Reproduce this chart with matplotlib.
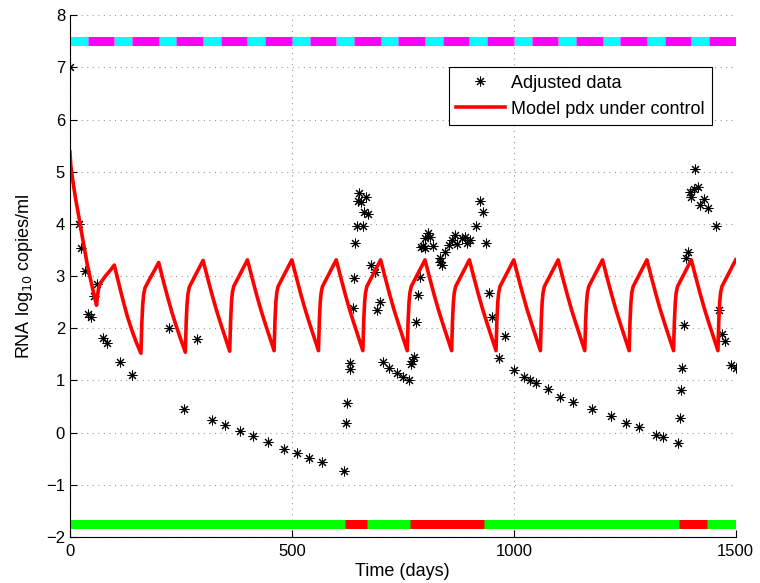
import matplotlib
matplotlib.use("Agg")
import matplotlib.pyplot as plt

plt.rcParams["font.family"] = ["Liberation Sans", "DejaVu Sans"]

# Adjusted data (days, log10 copies/ml)
data_days = [0, 20, 25, 33, 41, 48, 55, 62, 75, 83, 112, 140, 224, 257, 287,
             321, 349, 384, 412, 447, 483, 511, 538, 567, 617, 622, 624, 630,
             630, 637, 639, 643, 646, 661, 649, 652, 656, 668, 663, 672, 678,
             687, 692, 698, 706, 719, 736, 751, 765, 768, 771, 775, 779, 784,
             788, 792, 796, 800, 801, 807, 811, 818, 833, 834, 838, 846, 854,
             860, 867, 873, 884, 890, 895, 902, 916, 923, 931, 937, 944, 950,
             966, 980, 1001, 1023, 1036, 1051, 1077, 1105, 1134, 1176, 1218,
             1252, 1282, 1321, 1336, 1371, 1374, 1377, 1380, 1384, 1389, 1393,
             1398, 1400, 1405, 1408, 1415, 1420, 1429, 1438, 1456, 1462, 1470,
             1477, 1489, 1500]
data_vals = [7.0, 4.0, 3.54, 3.09, 2.27, 2.21, 2.62, 2.84, 1.82, 1.71, 1.35,
             1.10, 2.0, 0.45, 1.80, 0.24, 0.14, 0.03, -0.06, -0.19, -0.31,
             -0.39, -0.48, -0.57, -0.73, 0.18, 0.57, 1.33, 1.21, 2.38, 2.96,
             3.63, 3.96, 3.96, 4.44, 4.59, 4.42, 4.52, 4.23, 4.19, 3.21, 3.08,
             2.35, 2.50, 1.35, 1.24, 1.14, 1.06, 1.00, 1.32, 1.38, 1.44, 2.11,
             2.63, 2.98, 3.56, 3.58, 3.54, 3.72, 3.82, 3.74, 3.58, 3.34, 3.26,
             3.21, 3.47, 3.60, 3.70, 3.79, 3.61, 3.72, 3.75, 3.64, 3.70, 3.95,
             4.43, 4.23, 3.63, 2.68, 2.22, 1.43, 1.86, 1.20, 1.07, 1.00, 0.95,
             0.83, 0.69, 0.59, 0.45, 0.31, 0.18, 0.10, -0.05, -0.09, -0.20,
             0.27, 0.82, 1.23, 2.06, 3.35, 3.47, 4.62, 4.52, 4.66, 5.05, 4.71,
             4.36, 4.47, 4.30, 3.95, 2.34, 1.89, 1.76, 1.30, 1.23]

# Model pdx under control (vertices)
model_days = [
    0, 2, 5, 12, 20, 30, 40, 50, 60, 62, 65, 70, 80, 90, 100,
    110, 120, 130, 140, 150, 160, 162, 164, 166, 169, 180, 190, 200,
    210, 220, 230, 240, 250, 260, 262, 264, 266, 269, 280, 290, 300,
    310, 320, 330, 340, 350, 360, 362, 364, 366, 369, 380, 390, 400,
    410, 420, 430, 440, 450, 460, 462, 464, 466, 469, 480, 490, 500,
    510, 520, 530, 540, 550, 560, 562, 564, 566, 569, 580, 590, 600,
    610, 620, 630, 640, 650, 660, 662, 664, 666, 669, 680, 690, 700,
    710, 720, 730, 740, 750, 760, 762, 764, 766, 769, 780, 790, 800,
    810, 820, 830, 840, 850, 860, 862, 864, 866, 869, 880, 890, 900,
    910, 920, 930, 940, 950, 960, 962, 964, 966, 969, 980, 990, 1000,
    1010, 1020, 1030, 1040, 1050, 1060, 1062, 1064, 1066, 1069, 1080, 1090, 1100,
    1110, 1120, 1130, 1140, 1150, 1160, 1162, 1164, 1166, 1169, 1180, 1190, 1200,
    1210, 1220, 1230, 1240, 1250, 1260, 1262, 1264, 1266, 1269, 1280, 1290, 1300,
    1310, 1320, 1330, 1340, 1350, 1360, 1362, 1364, 1366, 1369, 1380, 1390, 1400,
    1410, 1420, 1430, 1440, 1450, 1460, 1462, 1464, 1466, 1469, 1480, 1490, 1500,
]
model_vals = [
    5.38, 5.12, 4.92, 4.52, 4.14, 3.65, 3.18, 2.80, 2.44, 2.62, 2.78, 2.88, 3.00, 3.10, 3.21,
    2.86, 2.52, 2.21, 1.95, 1.72, 1.52, 2.10, 2.45, 2.64, 2.77, 2.95, 3.10, 3.26,
    2.92, 2.60, 2.30, 2.03, 1.78, 1.54, 2.13, 2.48, 2.66, 2.79, 2.97, 3.13, 3.30,
    2.97, 2.65, 2.35, 2.08, 1.82, 1.56, 2.14, 2.50, 2.68, 2.80, 2.98, 3.14, 3.31,
    2.98, 2.66, 2.36, 2.09, 1.83, 1.57, 2.15, 2.50, 2.68, 2.80, 2.98, 3.14, 3.31,
    2.98, 2.66, 2.36, 2.09, 1.83, 1.57, 2.15, 2.50, 2.68, 2.80, 2.98, 3.14, 3.31,
    2.98, 2.66, 2.36, 2.09, 1.83, 1.57, 2.15, 2.50, 2.68, 2.80, 2.98, 3.14, 3.31,
    2.98, 2.66, 2.36, 2.09, 1.83, 1.57, 2.15, 2.50, 2.68, 2.80, 2.98, 3.14, 3.31,
    2.98, 2.66, 2.36, 2.09, 1.83, 1.57, 2.15, 2.50, 2.68, 2.80, 2.98, 3.14, 3.31,
    2.98, 2.66, 2.36, 2.09, 1.83, 1.57, 2.15, 2.50, 2.68, 2.80, 2.98, 3.14, 3.31,
    2.98, 2.66, 2.36, 2.09, 1.83, 1.57, 2.15, 2.50, 2.68, 2.80, 2.98, 3.14, 3.31,
    2.98, 2.66, 2.36, 2.09, 1.83, 1.57, 2.15, 2.50, 2.68, 2.80, 2.98, 3.14, 3.31,
    2.98, 2.66, 2.36, 2.09, 1.83, 1.57, 2.15, 2.50, 2.68, 2.80, 2.98, 3.14, 3.31,
    2.98, 2.66, 2.36, 2.09, 1.83, 1.57, 2.15, 2.50, 2.68, 2.80, 2.98, 3.14, 3.31,
    2.98, 2.66, 2.36, 2.09, 1.83, 1.57, 2.15, 2.50, 2.68, 2.80, 2.98, 3.14, 3.31,
]

# Top schedule bar: cyan / magenta periods
cyan_starts = [0, 100, 200, 300, 400, 500, 600, 700, 800, 900, 1000, 1100, 1200, 1300, 1400]
cyan_ends = [40, 140, 240, 340, 440, 540, 640, 740, 840, 940, 1040, 1140, 1240, 1340, 1440]
magenta_starts = cyan_ends
magenta_ends = [100, 200, 300, 400, 500, 600, 700, 800, 900, 1000, 1100, 1200, 1300, 1400, 1500]
top_level = 7.5

# Bottom bar: green with red periods
green_starts = [0]
green_ends = [1500]
red_starts = [619, 766, 1372]
red_ends = [670, 933, 1436]
bottom_level = -1.75

fig = plt.figure(figsize=(7.6, 5.83), dpi=100)
ax = fig.add_axes([0.092, 0.079, 0.876, 0.895])

bars = [
    ax.hlines([top_level] * len(cyan_starts), cyan_starts, cyan_ends,
              colors="#00ffff", linewidth=6.5),
    ax.hlines([top_level] * len(magenta_starts), magenta_starts, magenta_ends,
              colors="#ff00ff", linewidth=6.5),
    ax.hlines([bottom_level] * len(green_starts), green_starts, green_ends,
              colors="#00ff00", linewidth=6.5),
    ax.hlines([bottom_level] * len(red_starts), red_starts, red_ends,
              colors="#ff0000", linewidth=6.5),
]
for b in bars:
    b.set_capstyle("butt")

ax.plot(data_days, data_vals, linestyle="none", marker=(8, 2, 0), color="black",
        markersize=7, markeredgewidth=0.75, label="Adjusted data")
ax.plot(model_days, model_vals, color="red", linewidth=2.6, label="Model pdx under control")

ax.set_xlim(0, 1500)
ax.set_ylim(-2, 8)
ax.set_xticks([0, 500, 1000, 1500])
ax.set_yticks(range(-2, 9))
ax.tick_params(direction="in", length=5, labelsize=12, width=0.8)
ax.tick_params(axis="x", pad=5)
ax.spines["top"].set_visible(False)
ax.spines["right"].set_visible(False)
ax.grid(True, linestyle=(0, (1, 4)), color="#999999", linewidth=0.8)

ax.set_xlabel("Time (days)", fontsize=13, labelpad=3)
ax.set_ylabel("RNA log$_{10}$ copies/ml", fontsize=13, labelpad=8)

leg = ax.legend(loc="upper right", bbox_to_anchor=(0.964, 0.9), fontsize=13,
                numpoints=1, handlelength=2.7, handletextpad=0.35,
                labelspacing=0.5, fancybox=False, framealpha=1,
                edgecolor="black", borderaxespad=0)
leg.get_frame().set_linewidth(0.8)

fig.savefig("out.png", dpi=100)
